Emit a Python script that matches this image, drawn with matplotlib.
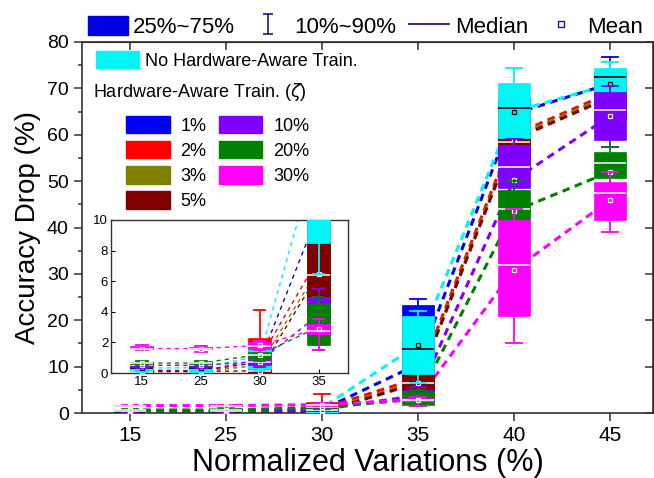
import numpy as np
import matplotlib
matplotlib.use("Agg")
import matplotlib.pyplot as plt
from matplotlib.patches import Patch
from matplotlib.lines import Line2D
from matplotlib.path import Path

plt.rcParams['font.family'] = ['Liberation Sans', 'DejaVu Sans']
plt.rcParams['mathtext.fontset'] = 'dejavusans'

variations = ['15', '25', '30', '35', '40', '45']

# rows: p10, p25, median, mean, p75, p90   (one column per variation)
acc_1 = [[0.02, 0.02, 0.10, 4.0, 50.0, 64.0],
         [0.05, 0.05, 0.20, 5.5, 56.0, 67.0],
         [0.15, 0.15, 0.60, 9.0, 62.0, 70.0],
         [0.18, 0.15, 0.70, 10.5, 64.5, 71.0],
         [0.25, 0.25, 1.20, 23.3, 68.0, 73.5],
         [0.30, 0.30, 1.50, 24.5, 70.0, 76.8]]
acc_2 = [[0.02, 0.02, 0.05, 3.5, 50.0, 62.0],
         [0.05, 0.05, 0.20, 4.5, 54.0, 65.0],
         [0.10, 0.10, 0.60, 6.5, 58.0, 68.0],
         [0.12, 0.12, 0.90, 7.5, 60.0, 69.0],
         [0.20, 0.20, 2.30, 10.0, 64.0, 72.0],
         [0.25, 0.25, 4.10, 12.0, 67.0, 74.0]]
acc_3 = [[0.02, 0.02, 0.05, 3.0, 49.0, 61.0],
         [0.05, 0.05, 0.15, 4.0, 53.0, 64.0],
         [0.10, 0.10, 0.40, 6.0, 57.0, 67.0],
         [0.10, 0.10, 0.50, 6.8, 59.5, 68.5],
         [0.20, 0.20, 0.90, 9.0, 62.0, 71.0],
         [0.25, 0.25, 1.20, 11.0, 65.0, 73.0]]
acc_5 = [[0.01, 0.01, 0.00, 3.0, 50.0, 60.0],
         [0.03, 0.03, 0.00, 4.0, 55.0, 63.0],
         [0.08, 0.08, 0.10, 6.4, 58.5, 66.0],
         [0.10, 0.10, 0.15, 6.5, 59.0, 68.0],
         [0.15, 0.15, 0.28, 8.6, 61.0, 70.0],
         [0.20, 0.20, 0.50, 10.5, 63.0, 72.0]]
acc_none = [[0.05, 0.05, 0.15, 6.5, 55.0, 66.0],
            [0.17, 0.07, 0.28, 8.5, 59.4, 69.3],
            [0.30, 0.30, 1.00, 13.9, 65.7, 72.5],
            [0.32, 0.35, 1.10, 14.7, 65.0, 70.9],
            [0.50, 0.70, 1.70, 21.0, 71.1, 74.3],
            [0.60, 0.75, 2.00, 22.0, 74.5, 75.7]]
acc_10 = [[0.30, 0.30, 0.40, 1.8, 45.0, 57.4],
          [0.40, 0.40, 0.50, 2.5, 48.5, 58.9],
          [0.50, 0.50, 0.70, 3.6, 53.0, 65.3],
          [0.50, 0.50, 0.75, 3.8, 50.2, 64.0],
          [0.60, 0.60, 0.90, 4.98, 57.8, 69.3],
          [0.70, 0.70, 1.10, 5.5, 59.0, 70.5]]
acc_20 = [[0.55, 0.55, 0.80, 1.5, 38.0, 49.0],
          [0.60, 0.60, 1.00, 1.8, 41.6, 50.6],
          [0.65, 0.65, 1.20, 2.6, 44.0, 54.0],
          [0.65, 0.65, 1.20, 3.0, 43.5, 52.0],
          [0.75, 0.75, 1.40, 4.54, 48.1, 56.3],
          [0.80, 0.80, 1.60, 5.0, 50.0, 57.4]]
acc_30 = [[1.50, 1.35, 1.50, 1.53, 15.0, 39.1],
          [1.55, 1.55, 1.60, 2.58, 21.0, 41.6],
          [1.60, 1.60, 1.75, 2.75, 32.0, 47.4],
          [1.60, 1.60, 1.80, 2.90, 30.8, 45.9],
          [1.77, 1.70, 2.00, 3.20, 41.6, 49.9],
          [1.80, 1.75, 2.10, 3.50, 44.0, 52.0]]

# drawing order (later ones on top)
order = ['1%', '2%', '3%', '5%', 'none', '10%', '20%', '30%']
data = {'1%': acc_1, '2%': acc_2, '3%': acc_3, '5%': acc_5, 'none': acc_none,
        '10%': acc_10, '20%': acc_20, '30%': acc_30}
colors = {'1%': '#0000f5', '2%': '#ff0000', '3%': '#808000', '5%': '#800000',
          'none': '#00f5f5', '10%': '#8000ff', '20%': '#008000', '30%': '#ff00ff'}


def draw(ax, n, width, lw, dash):
    pos = np.arange(n)
    for name in order:
        d = data[name]
        ax.plot(pos, d[3][:n], color=colors[name], lw=lw, linestyle=(0, dash), zorder=1)
    for k, name in enumerate(order):
        d = data[name]
        col = colors[name]
        mc = 'black' if name == 'none' else '#eeeeee'
        stats = [dict(whislo=d[0][i], q1=d[1][i], med=d[2][i], mean=d[3][i],
                      q3=d[4][i], whishi=d[5][i], fliers=[]) for i in range(n)]
        ax.bxp(stats, positions=pos, widths=width, patch_artist=True,
               showmeans=True, showfliers=False, manage_ticks=False,
               capwidths=width * 0.5, zorder=2 + k,
               boxprops=dict(facecolor=col, edgecolor=col, lw=0.5),
               medianprops=dict(color=mc, lw=1.2),
               meanprops=dict(marker='s', markersize=3.5, markerfacecolor='none',
                              markeredgecolor=mc, markeredgewidth=0.9),
               whiskerprops=dict(color=col, lw=1.3),
               capprops=dict(color=col, lw=1.3))


fig = plt.figure(figsize=(6.54, 4.78), dpi=100)
ax = fig.add_axes([82 / 654, 65 / 478, 571 / 654, 371 / 478])
draw(ax, 6, 0.34, 2.2, (2.5, 1.8))

ax.set_xlim(-0.5, 5.45)
ax.set_ylim(0, 80)
ax.set_xticks(np.arange(6))
ax.set_xticklabels(variations, fontsize=15)
ax.set_yticks(np.arange(0, 81, 10))
ax.set_yticks(np.arange(5, 80, 10), minor=True)
ax.tick_params(axis='y', labelsize=14)
ax.tick_params(which='major', direction='out', length=6, width=1.1, color='#333333')
ax.tick_params(which='minor', direction='out', length=3, width=1.1, color='#333333')
for sp in ax.spines.values():
    sp.set_linewidth(1.2)
    sp.set_color('#333333')
ax.set_xlabel('Normalized Variations (%)', fontsize=22, labelpad=2)
ax.set_ylabel('Accuracy Drop (%)', fontsize=20, labelpad=4)

top = ax.secondary_xaxis('top')
top.set_xticks(np.arange(6))
top.tick_params(direction='in', length=6, width=1.1, labeltop=False, color='#333333')
right = ax.secondary_yaxis('right')
right.set_yticks(np.arange(0, 81, 10))
right.tick_params(direction='in', length=6, width=1.1, labelright=False, color='#333333')

# legends inside the axes
leg1 = ax.legend(handles=[Patch(color=colors['none'])], labels=['No Hardware-Aware Train.'],
                 loc='upper left', bbox_to_anchor=(0.012, 0.995), frameon=False,
                 fontsize=13, handlelength=2.4, handleheight=1.1, handletextpad=0.3,
                 borderaxespad=0)
ax.add_artist(leg1)
ax.text(0.02, 0.865, 'Hardware-Aware Train. ($\\zeta$)', transform=ax.transAxes,
        fontsize=13, va='center', ha='left')
hw = ['1%', '2%', '3%', '5%', '10%', '20%', '30%']
ax.legend(handles=[Patch(color=colors[h]) for h in hw], labels=hw, ncol=2,
          loc='upper left', bbox_to_anchor=(0.065, 0.82), frameon=False,
          fontsize=13, handlelength=2.4, handleheight=1.1, handletextpad=0.6,
          labelspacing=0.35, columnspacing=0.7, borderaxespad=0)

# legend above the axes
cap_path = Path([(-0.5, -1), (0.5, -1), (0, -1), (0, 1), (-0.5, 1), (0.5, 1)],
                [Path.MOVETO, Path.LINETO, Path.MOVETO, Path.LINETO, Path.MOVETO, Path.LINETO])
top_handles = [Patch(color='#0000e0'),
               Line2D([], [], marker=cap_path, markersize=14, color='#1a1a80', lw=0, markeredgewidth=1.2),
               Line2D([], [], color='#1a1a80', lw=1.3),
               Line2D([], [], marker='s', markersize=4, lw=0, markerfacecolor='none',
                      markeredgecolor='#1a1a80')]
fig.legend(handles=top_handles, labels=['25%~75%', '10%~90%', 'Median', 'Mean'],
           loc='upper left', bbox_to_anchor=(72 / 654, 1.0), ncol=4, frameon=False,
           fontsize=16, handlelength=1.8, handleheight=1.0, handletextpad=0.25,
           columnspacing=0.6, borderaxespad=0.3)

# inset zoom of the low-variation region
axin = fig.add_axes([111 / 654, 105 / 478, 237 / 654, 153 / 478])
draw(axin, 4, 0.4, 1.0, (3, 3))
axin.set_xlim(-0.52, 3.5)
axin.set_ylim(0, 10)
axin.set_xticks(np.arange(4))
axin.set_xticklabels(variations[:4])
axin.set_yticks(np.arange(0, 11, 2))
axin.tick_params(direction='in', length=3, labelsize=9.5, pad=2)
for sp in axin.spines.values():
    sp.set_linewidth(1.0)
    sp.set_color('#333333')

fig.savefig('out.png', dpi=100)
